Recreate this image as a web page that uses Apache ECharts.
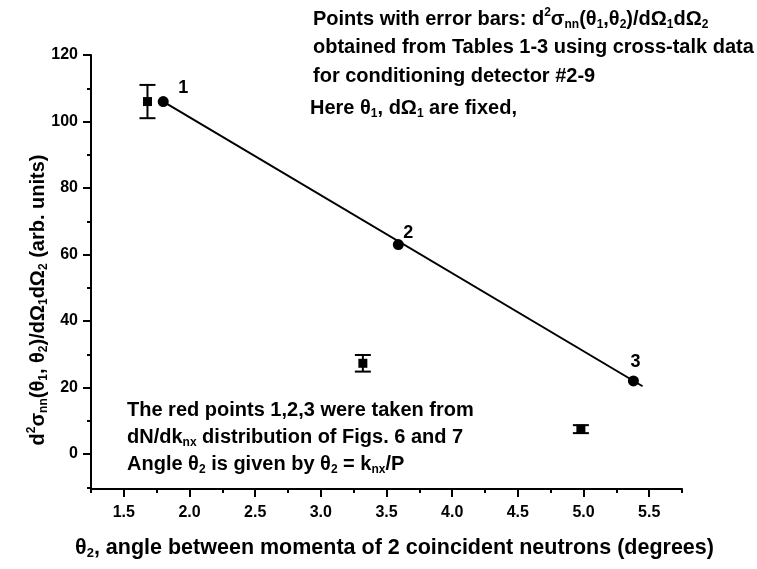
<!DOCTYPE html>
<html>
<head>
<meta charset="utf-8">
<script src="https://cdn.jsdelivr.net/npm/echarts@6/dist/echarts.min.js"></script>
<style>
  html, body { margin: 0; padding: 0; background: #fff; }
  #chart { width: 757px; height: 569px; }
</style>
</head>
<body>
<div id="chart"></div>
<script>
// Cross-section points (measured, with error bars)
const errX = [1.68, 3.32, 4.98];
const errY = [106, 27.3, 7.5];
const errD = [5, 2.5, 1.2];

// Points 1,2,3 from dN/dk distributions
const ptX = [1.80, 3.59, 5.38];
const ptY = [106, 63, 22];
const ptLabels = ['1', '2', '3'];

// Straight line drawn through points 1-3
const fitX = [1.80, 5.45];
const fitY = [106, 20.4];

// Axis ticks
const xMajor = [1.5, 2.0, 2.5, 3.0, 3.5, 4.0, 4.5, 5.0, 5.5];
const xMinor = [1.25, 1.75, 2.25, 2.75, 3.25, 3.75, 4.25, 4.75, 5.25, 5.75];
const yMajor = [0, 20, 40, 60, 80, 100, 120];
const yMinor = [-10, 10, 30, 50, 70, 90, 110];

const labelOffsets = [[20, 6], [10, 8], [2, 1]];

const FONT = '"Liberation Sans", Arial, sans-serif';
const black = '#000';

function makeRich(size) {
  const small = Math.round(size * 0.6);
  return {
    n: { fontSize: size, fontWeight: 'bold', fontFamily: FONT, color: black, lineHeight: 24, verticalAlign: 'middle' },
    sup: { fontSize: small, fontWeight: 'bold', fontFamily: FONT, color: black, verticalAlign: 'top', lineHeight: 24, padding: [0, 0, 9, 0] },
    sub: { fontSize: small, fontWeight: 'bold', fontFamily: FONT, color: black, verticalAlign: 'bottom', lineHeight: 24, padding: [9, 0, 0, 0] }
  };
}
const noteRich = makeRich(20);
const xTitleRich = makeRich(21.5);
const yTitleRich = makeRich(20);

function textEl(left, top, str) {
  return {
    type: 'text', left: left, top: top,
    style: { text: str, rich: noteRich, font: 'bold 20px ' + FONT, fill: black }
  };
}

const chart = echarts.init(document.getElementById('chart'), null, { renderer: 'canvas' });

const axisCommonX = { type: 'value', min: 1.25, max: 5.75, splitLine: { show: false } };
const axisCommonY = { type: 'value', min: -10.5, max: 120, splitLine: { show: false } };

chart.setOption({
  backgroundColor: '#fff',
  animation: false,
  grid: { left: 91, right: 75, top: 55, bottom: 80, containLabel: false },
  xAxis: [
    Object.assign({}, axisCommonX, {
      position: 'bottom',
      axisLine: { show: true, onZero: false, lineStyle: { color: black, width: 2 } },
      axisTick: { show: true, customValues: xMajor, length: 8, lineStyle: { color: black, width: 2 } },
      axisLabel: {
        customValues: xMajor, margin: 16, color: black, fontSize: 16, fontWeight: 'bold', fontFamily: FONT,
        formatter: v => Number(v).toFixed(1)
      },
      name: '{n|θ}{sub|2}{n|, angle between momenta of 2 coincident neutrons (degrees)}',
      nameLocation: 'middle', nameGap: 47,
      nameTextStyle: { rich: xTitleRich, padding: [0, 0, 0, 16] }
    }),
    Object.assign({}, axisCommonX, {
      position: 'bottom',
      axisLine: { show: false, onZero: false },
      axisTick: { show: true, customValues: xMinor, length: 4, lineStyle: { color: black, width: 2 } },
      axisLabel: { show: false }
    })
  ],
  yAxis: [
    Object.assign({}, axisCommonY, {
      position: 'left',
      axisLine: { show: true, onZero: false, lineStyle: { color: black, width: 2 } },
      axisTick: { show: true, customValues: yMajor, length: 8, lineStyle: { color: black, width: 2 } },
      axisLabel: {
        customValues: yMajor, margin: 13, color: black, fontSize: 16, fontWeight: 'bold', fontFamily: FONT
      },
      name: '{n|d}{sup|2}{n|σ}{sub|nn}{n|(θ}{sub|1}{n|, θ}{sub|2}{n|)/dΩ}{sub|1}{n|dΩ}{sub|2}{n| (arb. units)}',
      nameLocation: 'middle', nameGap: 41, nameMoveOverlap: false,
      nameTextStyle: { rich: yTitleRich, padding: [0, 56, 0, 0] }
    }),
    Object.assign({}, axisCommonY, {
      position: 'left',
      axisLine: { show: false, onZero: false },
      axisTick: { show: true, customValues: yMinor, length: 4, lineStyle: { color: black, width: 2 } },
      axisLabel: { show: false }
    })
  ],
  series: [
    {
      type: 'line',
      data: fitX.map((x, i) => [x, fitY[i]]),
      symbol: 'none',
      lineStyle: { color: black, width: 2 },
      z: 2
    },
    {
      type: 'scatter',
      data: ptX.map((x, i) => ({
        value: [x, ptY[i]],
        label: { offset: labelOffsets[i] }
      })),
      symbol: 'circle', symbolSize: 11,
      itemStyle: { color: black, opacity: 1 },
      label: {
        show: true, position: 'top',
        formatter: p => ptLabels[p.dataIndex],
        color: black, fontSize: 18, fontWeight: 'bold', fontFamily: FONT
      },
      z: 3
    },
    {
      type: 'custom',
      data: errX.map((x, i) => [x, errY[i], errD[i]]),
      renderItem: function (params, api) {
        const x = api.value(0), y = api.value(1), e = api.value(2);
        const c = api.coord([x, y]);
        const t = api.coord([x, y + e]);
        const b = api.coord([x, y - e]);
        const hw = 8;
        const ls = { stroke: black, lineWidth: 2 };
        return {
          type: 'group',
          children: [
            { type: 'line', shape: { x1: c[0], y1: t[1], x2: c[0], y2: b[1] }, style: ls },
            { type: 'line', shape: { x1: c[0] - hw, y1: t[1], x2: c[0] + hw, y2: t[1] }, style: ls },
            { type: 'line', shape: { x1: c[0] - hw, y1: b[1], x2: c[0] + hw, y2: b[1] }, style: ls },
            { type: 'rect', shape: { x: c[0] - 4.5, y: c[1] - 4.5, width: 9, height: 9 }, style: { fill: black } }
          ]
        };
      },
      z: 4
    }
  ],
  graphic: [
    textEl(313, 7, '{n|Points with error bars: d}{sup|2}{n|σ}{sub|nn}{n|(θ}{sub|1}{n|,θ}{sub|2}{n|)/dΩ}{sub|1}{n|dΩ}{sub|2}'),
    textEl(313, 37, '{n|obtained from Tables 1-3 using cross-talk data}'),
    textEl(313, 66, '{n|for conditioning detector #2-9}'),
    textEl(310, 98, '{n|Here θ}{sub|1}{n|, dΩ}{sub|1}{n| are fixed,}'),
    textEl(127, 400, '{n|The red points 1,2,3 were taken from}'),
    textEl(127, 427, '{n|dN/dk}{sub|nx}{n| distribution of Figs. 6 and 7}'),
    textEl(127, 454, '{n|Angle θ}{sub|2}{n| is given by θ}{sub|2}{n| = k}{sub|nx}{n|/P}')
  ]
});
</script>
</body>
</html>
